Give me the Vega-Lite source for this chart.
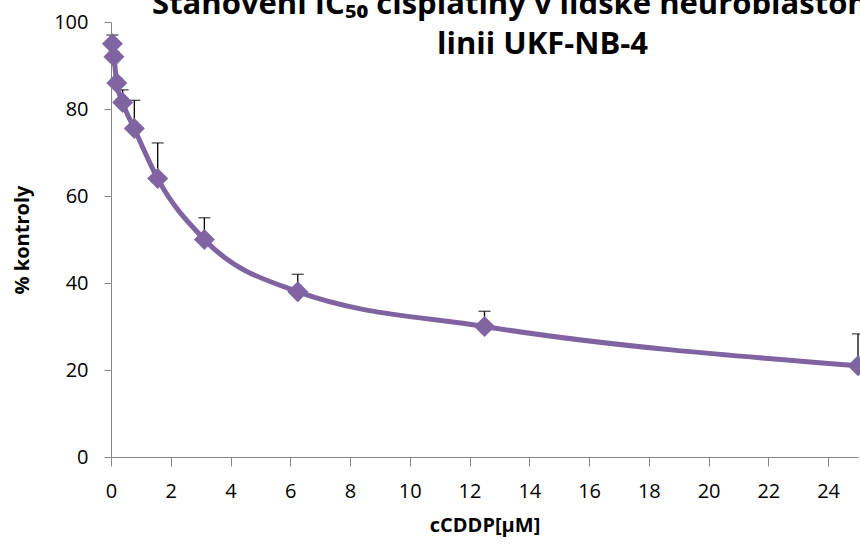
{
  "$schema": "https://vega.github.io/schema/vega-lite/v6.json",
  "autosize": {"type": "none"},
  "width": 747,
  "height": 435,
  "padding": {"left": 111, "top": 22, "right": 2, "bottom": 87},
  "background": "white",
  "title": {
    "text": ["Stanovení IC₅₀ cisplatiny v lidské neuroblastomové", "linii UKF-NB-4"],
    "font": "Open Sans",
    "fontSize": 31,
    "fontWeight": "bold",
    "color": "#000000",
    "anchor": "middle",
    "dx": 58,
    "dy": 49,
    "lineHeight": 40,
    "offset": 0
  },
  "config": {
    "view": {"stroke": null},
    "axis": {
      "grid": false,
      "domainColor": "#868686",
      "tickColor": "#868686",
      "labelFont": "Open Sans",
      "labelFontSize": 20,
      "labelColor": "#000000",
      "labelFlush": false,
      "titleFont": "Open Sans",
      "titleFontWeight": "bold",
      "titleColor": "#000000"
    }
  },
  "data": {
    "values": [
      {"c": 0.049, "v": 95, "up": 97},
      {"c": 0.098, "v": 92, "up": 93},
      {"c": 0.195, "v": 86, "up": 87},
      {"c": 0.39, "v": 81.5, "up": 84.4},
      {"c": 0.78, "v": 75.5, "up": 82},
      {"c": 1.5625, "v": 64, "up": 72.2},
      {"c": 3.125, "v": 50, "up": 55},
      {"c": 6.25, "v": 38, "up": 42},
      {"c": 12.5, "v": 30, "up": 33.5},
      {"c": 25, "v": 21, "up": 28.3}
    ]
  },
  "encoding": {
    "x": {
      "field": "c",
      "type": "quantitative",
      "scale": {"domain": [0, 25], "nice": false},
      "axis": {
        "values": [0, 2, 4, 6, 8, 10, 12, 14, 16, 18, 20, 22, 24],
        "title": "cCDDP[µM]",
        "titleFontSize": 20,
        "titlePadding": 14,
        "tickSize": 9,
        "labelPadding": 15
      }
    }
  },
  "layer": [
    {
      "mark": {"type": "rule", "color": "#000000", "strokeWidth": 1.3},
      "encoding": {
        "y": {"field": "v", "type": "quantitative"},
        "y2": {"field": "up"}
      }
    },
    {
      "mark": {"type": "tick", "orient": "horizontal", "color": "#000000", "size": 12, "thickness": 1.3},
      "encoding": {
        "y": {"field": "up", "type": "quantitative"}
      }
    },
    {
      "mark": {"type": "line", "color": "#8064A2", "strokeWidth": 5, "interpolate": "monotone"},
      "encoding": {
        "y": {"field": "v", "type": "quantitative"}
      }
    },
    {
      "mark": {"type": "point", "shape": "diamond", "filled": true, "color": "#8064A2", "opacity": 1, "size": 440},
      "encoding": {
        "y": {
          "field": "v",
          "type": "quantitative",
          "scale": {"domain": [0, 100], "nice": false},
          "axis": {
            "values": [0, 20, 40, 60, 80, 100],
            "title": "% kontroly",
            "titleFontSize": 20,
            "titlePadding": 21,
            "tickSize": 7,
            "labelPadding": 16
          }
        }
      }
    }
  ]
}
